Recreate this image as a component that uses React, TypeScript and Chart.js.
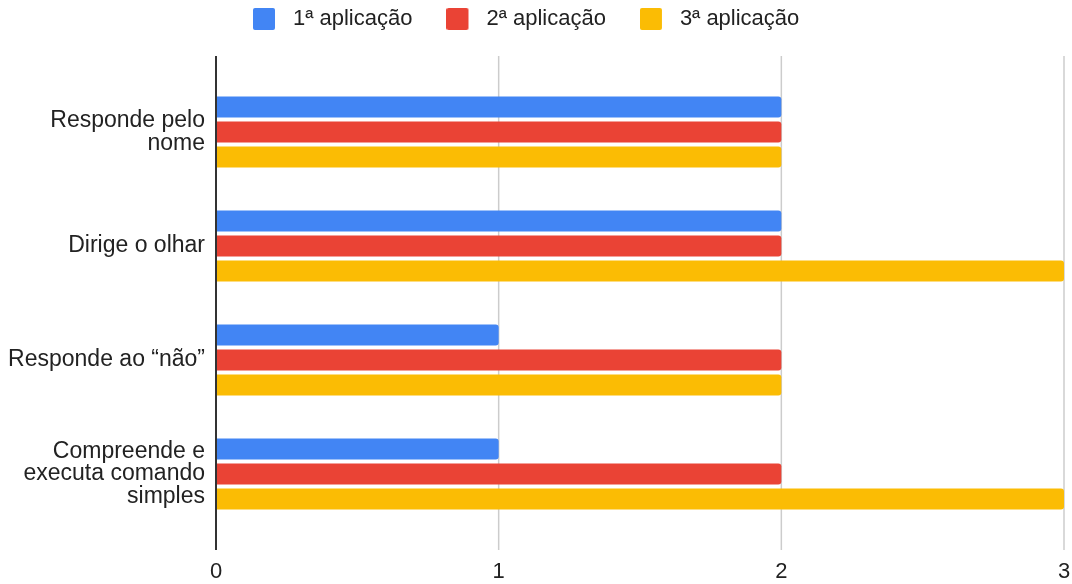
import React, { useEffect, useRef } from "react";
import { Chart, registerables } from "chart.js";

Chart.register(...registerables);

// Categories (multi-line labels) and the three applications
const categories: string[][] = [
  ["Responde pelo", "nome"],
  ["Dirige o olhar"],
  ["Responde ao “não”"],
  ["Compreende e", "executa comando", "simples"],
];
const seriesNames = ["1ª aplicação", "2ª aplicação", "3ª aplicação"];
const firstApplication = [2, 2, 1, 1];
const secondApplication = [2, 2, 2, 2];
const thirdApplication = [2, 3, 2, 3];
const xMin = 0;
const xMax = 3;

const seriesColors = ["#4285F4", "#EA4335", "#FBBC04"];
const TEXT = "#222222";
const FONT = "'Liberation Sans', Arial, Helvetica, sans-serif";
const GRID_OVERHANG = 19;
const LEGEND_PADDING = 34;
const SWATCH = 22; // legend square size
const SWATCH_SLOT = 29; // square plus extra gap before the label text

// Legend swatch: rounded square on the left of a wider transparent slot
function makeSwatch(color: string): HTMLCanvasElement {
  const c = document.createElement("canvas");
  c.width = SWATCH_SLOT;
  c.height = SWATCH;
  const g = c.getContext("2d")!;
  g.fillStyle = color;
  g.beginPath();
  if ((g as any).roundRect) (g as any).roundRect(0, 0, SWATCH, SWATCH, 2);
  else g.rect(0, 0, SWATCH, SWATCH);
  g.fill();
  return c;
}

// Vertical grid lines and the zero axis extend slightly beyond the plot area
const gridPlugin = {
  id: "verticalGrid",
  beforeDatasetsDraw(chart: any) {
    const { ctx, chartArea, scales } = chart;
    const x = scales.x;
    ctx.save();
    ctx.strokeStyle = "#cccccc";
    ctx.lineWidth = 1.5;
    x.ticks.forEach((t: any) => {
      if (t.value === xMin) return;
      const px = x.getPixelForValue(t.value);
      ctx.beginPath();
      ctx.moveTo(px, chartArea.top - GRID_OVERHANG);
      ctx.lineTo(px, chartArea.bottom + GRID_OVERHANG);
      ctx.stroke();
    });
    ctx.restore();
  },
  afterDatasetsDraw(chart: any) {
    const { ctx, chartArea, scales } = chart;
    const px = scales.x.getPixelForValue(xMin);
    ctx.save();
    ctx.strokeStyle = "#333333";
    ctx.lineWidth = 2;
    ctx.beginPath();
    ctx.moveTo(px, chartArea.top - GRID_OVERHANG);
    ctx.lineTo(px, chartArea.bottom + GRID_OVERHANG);
    ctx.stroke();
    ctx.restore();
  },
};

// The legend uses wide item spacing; place it near the top edge
const legendPlacement = {
  id: "legendPlacement",
  afterLayout(chart: any) {
    const l = chart.legend;
    if (!l) return;
    const h = l.bottom - l.top;
    l.top = 8 - LEGEND_PADDING;
    l.bottom = l.top + h;
    const w = l.right - l.left;
    l.left = 253 - LEGEND_PADDING;
    l.right = l.left + w;
  },
};

export default function App() {
  const canvasRef = useRef<HTMLCanvasElement | null>(null);

  useEffect(() => {
    if (!canvasRef.current) return;
    const data = [firstApplication, secondApplication, thirdApplication];
    const swatches = seriesColors.map(makeSwatch);
    const defaultLabels = (Chart.defaults as any).plugins.legend.labels.generateLabels;
    const chart = new Chart(canvasRef.current, {
      type: "bar",
      data: {
        labels: categories,
        datasets: seriesNames.map((name, i) => ({
          label: name,
          data: data[i],
          backgroundColor: seriesColors[i],
          borderWidth: 0,
          borderRadius: 3,
          borderSkipped: "start",
          categoryPercentage: 0.658,
          barPercentage: 0.84,
        })),
      },
      options: {
        indexAxis: "y",
        animation: false,
        responsive: false,
        maintainAspectRatio: false,
        layout: { padding: { left: 0, right: 8, top: 9, bottom: 0 } },
        plugins: {
          tooltip: { enabled: false },
          legend: {
            position: "top",
            align: "start",
            labels: {
              color: TEXT,
              font: { family: FONT, size: 22 },
              boxHeight: SWATCH,
              usePointStyle: true,
              pointStyleWidth: SWATCH_SLOT,
              padding: LEGEND_PADDING,
              generateLabels(chart: any) {
                return defaultLabels(chart).map((item: any, i: number) => ({
                  ...item,
                  pointStyle: swatches[i],
                }));
              },
            },
          },
        },
        scales: {
          x: {
            type: "linear",
            min: xMin,
            max: xMax,
            grid: { display: false, drawTicks: false },
            border: { display: false },
            ticks: {
              stepSize: 1,
              color: TEXT,
              font: { family: FONT, size: 22 },
              padding: 28,
            },
            afterFit(scale: any) {
              scale.height = 53;
              scale.paddingLeft = 0;
              scale.paddingRight = 0;
            },
          },
          y: {
            type: "category",
            grid: { display: false, drawTicks: false },
            border: { display: false },
            ticks: {
              color: TEXT,
              font: { family: FONT, size: 23, lineHeight: 0.98 },
              padding: 11,
              crossAlign: "near",
              autoSkip: false,
            },
            afterFit(scale: any) {
              scale.width = 216;
            },
          },
        },
      },
      plugins: [gridPlugin, legendPlacement],
    });
    return () => chart.destroy();
  }, []);

  return (
    <div style={{ position: "fixed", left: 0, top: 0, width: 1072, height: 584, background: "#fff" }}>
      <canvas ref={canvasRef} width={1072} height={584} style={{ display: "block" }} />
    </div>
  );
}
